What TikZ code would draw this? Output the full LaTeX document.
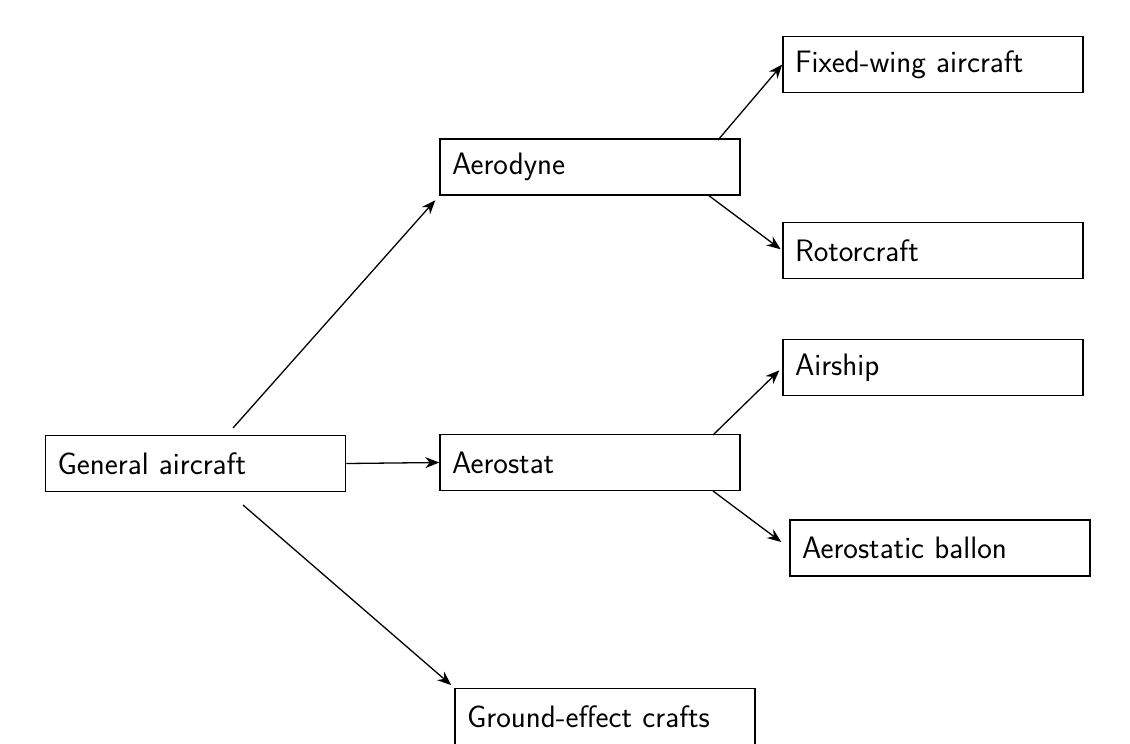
\documentclass[tikz,border=0pt]{standalone}
\usetikzlibrary{arrows.meta}

\tikzset{
  box/.style={
    draw,
    line width=1.5pt,
    rectangle,
    inner xsep=12pt,
    text width=276pt,
    minimum width=300pt,
    minimum height=56pt,
    align=left,
    font=\sffamily\fontsize{31}{34}\selectfont,
  },
  link/.style={line width=1.3pt, -{Stealth[length=14pt,width=11pt]}},
}

\begin{document}
\begin{tikzpicture}[x=1pt,y=-1pt]
  \useasboundingbox (0,0) rectangle (1130,744);

  \node[box] (general) at (195.5,463.5) {General aircraft};
  \node[box] (aerodyne) at (590,167) {Aerodyne};
  \node[box] (aerostat) at (590,462.5) {Aerostat};
  \node[box] (ground) at (605,716.5) {Ground-effect crafts};

  \node[box] (fixed) at (933,64.5) {Fixed-wing aircraft};
  \node[box] (rotor) at (933,250.5) {Rotorcraft};
  \node[box] (airship) at (933,367.5) {Airship};
  \node[box] (ballon) at (940,548) {Aerostatic ballon};

  % free ends of the connectors
  \coordinate (g1) at (233,428);
  \coordinate (g2) at (243,505);
  \coordinate (d1) at (718,140);
  \coordinate (d2) at (708,195);
  \coordinate (s1) at (713,435);
  \coordinate (s2) at (713,491);

  \draw[link,shorten >=6pt] (g1) -- (aerodyne.south west);
  \draw[link] (general.east) -- (aerostat.west);
  \draw[link,shorten >=4pt] (g2) -- (ground.north west);
  \draw[link] (d1) -- (fixed.west);
  \draw[link,shorten >=2pt] (d2) -- (rotor.west);
  \draw[link,shorten >=4pt] (s1) -- (airship.west);
  \draw[link,shorten >=10pt] (s2) -- (ballon.west);
\end{tikzpicture}
\end{document}
